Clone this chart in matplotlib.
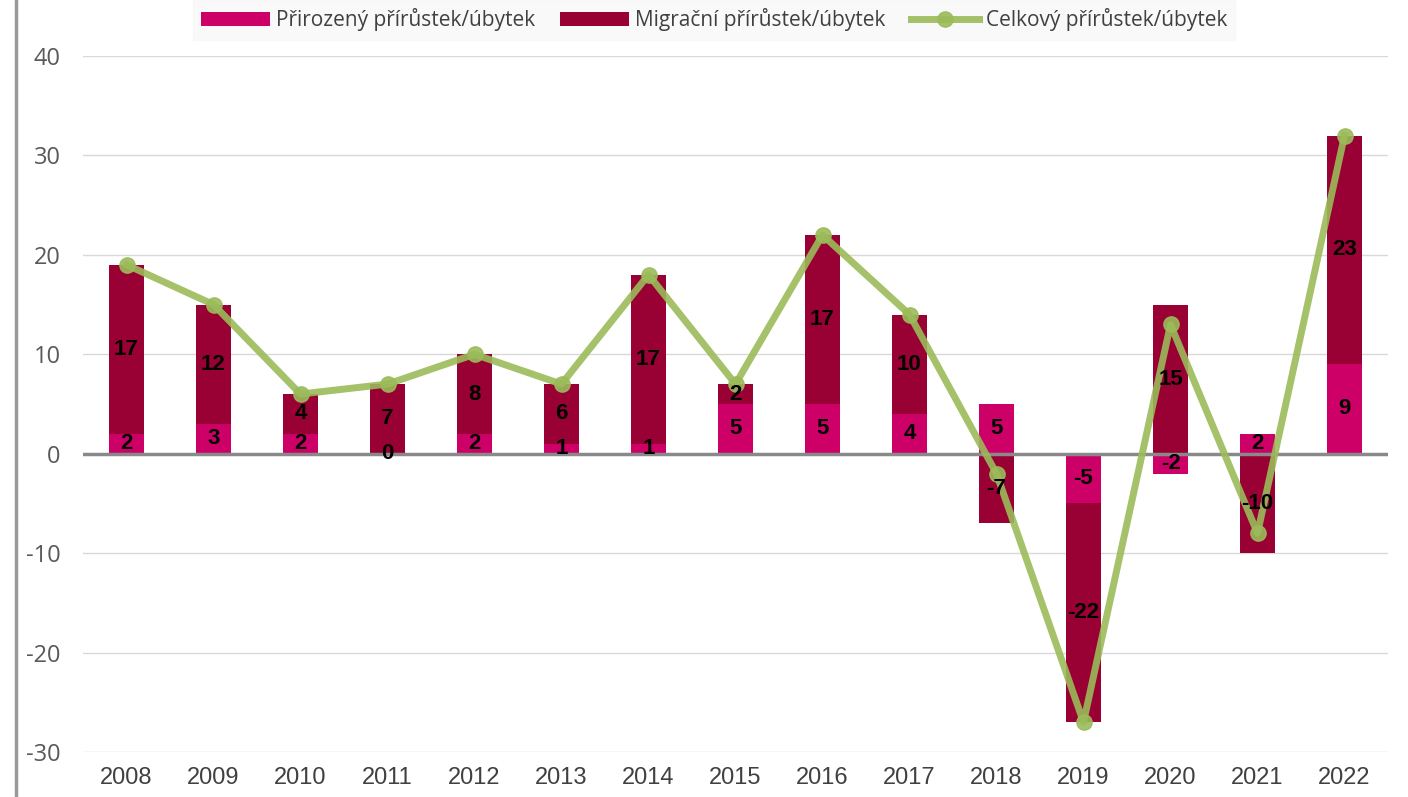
import matplotlib.pyplot as plt
import numpy as np
from matplotlib.lines import Line2D

plt.rcParams["axes.unicode_minus"] = False

years = ["2008", "2009", "2010", "2011", "2012", "2013", "2014", "2015",
         "2016", "2017", "2018", "2019", "2020", "2021", "2022"]
prirozeny = [2, 3, 2, 0, 2, 1, 1, 5, 5, 4, 5, -5, -2, 2, 9]
migracni = [17, 12, 4, 7, 8, 6, 17, 2, 17, 10, -7, -22, 15, -10, 23]
celkovy = [19, 15, 6, 7, 10, 7, 18, 7, 22, 14, -2, -27, 13, -8, 32]

pink = "#CC0066"
dark = "#990033"
green = "#9BBB59"

fig = plt.figure(figsize=(14.08, 7.97), dpi=100)
ax = fig.add_axes([83/1408, 1-752/797, (1388-83)/1408, (752-56)/797])

x = np.arange(len(years))
nat = np.array(prirozeny)
mig = np.array(migracni)
# migration stacks on top of natural only when both have the same sign
mig_bottom = np.where(np.sign(mig) == np.sign(nat), nat, 0)

w = 0.4
b1 = ax.bar(x, nat, w, color=pink, zorder=2, label="Přirozený přírůstek/úbytek")
b2 = ax.bar(x, mig, w, bottom=mig_bottom, color=dark, zorder=2, label="Migrační přírůstek/úbytek")

for i in range(len(x)):
    ax.text(x[i], nat[i]/2, str(nat[i]), ha="center", va="center",
            fontsize=16, fontweight="bold", family="Liberation Sans", zorder=5)
    ax.text(x[i], mig_bottom[i] + mig[i]/2, str(mig[i]), ha="center", va="center",
            fontsize=16, fontweight="bold", family="Liberation Sans", zorder=5)

l1, = ax.plot(x, celkovy, color=green, lw=5, marker="o", ms=11, alpha=0.9, zorder=4,
              label="Celkový přírůstek/úbytek")

ax.axhline(0, color="#898989", lw=2.5, zorder=2.5)
ax.set_ylim(-30, 40)
ax.set_xlim(-0.5, 14.5)
ax.set_yticks(range(-30, 41, 10))
ax.set_xticks(x)
ax.set_xticklabels(years)
ax.yaxis.grid(True, color="#D9D9D9", lw=1)
ax.set_axisbelow(True)
for s in ax.spines.values():
    s.set_visible(False)
ax.tick_params(length=0)
ax.tick_params(axis="y", pad=16, labelsize=17, labelcolor="#595959")
ax.tick_params(axis="x", pad=11, labelsize=17, labelcolor="#404040")
for t in ax.get_yticklabels():
    t.set_family("Open Sans")
for t in ax.get_xticklabels():
    t.set_family("Liberation Sans")

leg = fig.legend(handles=[b1, b2, l1], loc="upper center", bbox_to_anchor=(714/1408, 1.0), ncol=3,
                 frameon=True, fancybox=False, borderaxespad=0,
                 prop={"family": "Open Sans", "size": 15}, handlelength=3.3,
                 columnspacing=1.2, handletextpad=0.3)
leg.get_frame().set_facecolor("#F8F8F8")
leg.get_frame().set_edgecolor("#F8F8F8")
for t in leg.get_texts():
    t.set_color("#404040")

fig.add_artist(Line2D([16/1408, 16/1408], [0, 1], color="#999999", lw=2.5))

fig.savefig("out.png", dpi=100)
